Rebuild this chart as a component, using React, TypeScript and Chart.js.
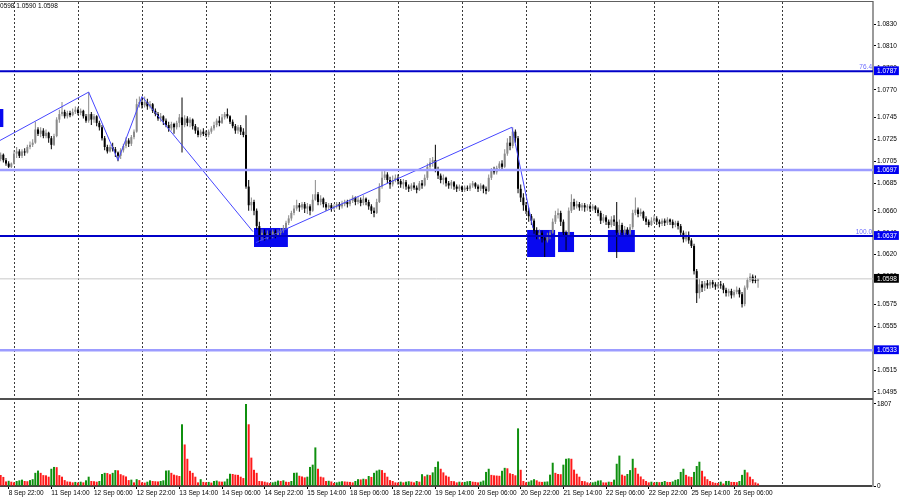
import React, { useEffect, useRef } from "react";
import { Chart, registerables } from "chart.js";

Chart.register(...registerables);

// Prices are stored in pips above PRICE_BASE (e.g. 98 -> 1.0598). One bar = one hour (H1).
const PRICE_BASE = 1.05;
const PIP = 0.0001;

const OPEN_PIPS = [
  207,211,206,203,200,
  203,212,214,210,214,213,218,220,222,234,230,233,228,231,226,220,228,243,248,250,246,249,247,250,
  252,249,251,246,242,248,243,246,240,236,226,218,214,218,216,213,210,215,219,224,221,227,232,257,
  259,256,259,255,257,251,248,244,246,242,238,235,239,236,240,245,238,244,240,243,237,233,229,232,
  230,229,232,235,238,242,240,245,248,246,241,237,233,236,232,229,182,165,168,160,146,137,140,136,
  139,137,141,138,140,142,144,149,153,158,162,165,163,166,162,164,160,170,175,168,171,166,163,165,
  162,164,166,164,166,168,166,169,172,168,170,167,171,168,164,160,158,168,182,190,193,188,184,188,
  190,187,184,186,182,180,183,181,179,185,183,190,200,204,206,198,192,188,190,185,183,186,182,180,
  182,179,181,180,183,185,182,180,183,180,178,190,197,195,199,203,200,212,222,219,232,226,180,172,
  165,160,155,151,142,138,140,135,133,137,140,150,156,158,150,140,138,160,168,164,166,163,165,163,
  164,162,164,161,158,151,154,150,147,152,150,140,147,140,143,139,145,158,161,157,159,153,150,147,
  151,153,150,148,151,149,152,150,147,149,146,140,134,138,133,128,105,85,93,90,94,92,95,93,
  91,93,92,88,85,87,83,86,88,84,75,90,97,100,96,96,
];
const HIGH_PIPS = [
  213,212,208,205,204,
  215,218,216,216,217,220,223,225,241,236,236,235,234,232,228,230,245,252,259,252,251,251,253,255,
  254,253,252,248,268,250,248,247,242,238,228,220,220,222,218,214,217,221,227,226,229,234,262,264,
  263,264,262,260,258,253,250,249,247,244,241,241,240,242,248,263,247,246,245,244,239,236,234,235,
  233,234,237,241,244,246,248,250,253,247,243,239,238,238,235,247,188,172,170,162,150,143,143,142,
  142,143,143,143,144,147,151,156,160,165,170,167,168,168,167,166,175,188,177,174,172,168,167,167,
  166,168,168,169,170,170,171,174,173,173,172,174,172,170,166,163,171,185,196,197,195,191,192,193,
  193,189,189,188,184,185,186,183,187,188,193,203,208,209,220,200,194,193,191,187,188,187,184,184,
  183,183,183,185,187,186,184,185,184,182,193,199,200,201,205,206,216,226,228,236,234,228,184,176,
  168,163,157,153,145,143,142,138,140,142,153,160,162,160,152,142,163,175,171,169,168,167,167,166,
  166,166,165,163,160,157,156,152,155,156,168,152,149,146,145,148,161,172,163,162,160,155,152,154,
  156,155,152,153,153,154,153,152,151,151,148,142,141,141,135,130,107,98,96,96,97,97,97,95,
  95,96,94,90,89,89,88,91,90,86,92,99,103,102,101,98,
];
const LOW_PIPS = [
  205,204,201,199,199,
  202,208,208,208,210,212,216,218,221,228,227,226,226,222,216,219,227,240,246,244,244,245,246,248,
  247,247,244,240,240,238,240,237,233,224,215,212,213,214,209,205,207,213,217,218,219,225,231,254,
  253,254,252,253,249,246,242,241,238,236,232,233,230,234,236,213,236,237,236,234,230,227,227,228,
  227,227,230,233,236,237,239,243,244,239,235,230,230,229,227,180,160,160,156,143,131,133,133,134,
  134,135,135,136,137,140,143,147,151,156,160,159,161,158,157,156,159,169,165,165,163,160,161,159,
  160,162,161,162,164,163,164,167,165,166,164,165,165,161,157,154,157,167,180,188,185,180,182,186,
  184,181,180,179,177,178,179,176,178,180,182,188,198,200,195,189,185,184,182,180,180,179,177,178,
  177,177,178,178,181,180,177,178,176,175,177,188,193,193,197,197,199,210,215,217,222,176,168,160,
  157,150,147,139,134,134,131,118,131,134,139,148,153,146,136,124,137,158,161,162,160,160,159,160,
  159,160,158,155,148,149,147,144,145,146,117,137,137,136,136,137,143,156,154,155,151,147,145,146,
  149,147,145,146,146,147,147,144,145,143,137,131,132,130,126,102,76,80,86,87,89,89,90,88,
  89,89,85,82,82,80,81,84,81,72,73,88,95,94,94,90,
];
const CLOSE_PIPS = [
  211,206,203,200,203,
  212,214,210,214,213,218,220,222,234,230,233,228,231,226,220,228,243,248,250,246,249,247,250,252,
  249,251,246,242,248,243,246,240,236,226,218,214,218,216,213,210,215,219,224,221,227,232,257,259,
  256,259,255,257,251,248,244,246,242,238,235,239,236,240,245,238,244,240,243,237,233,229,232,230,
  229,232,235,238,242,240,245,248,246,241,237,233,236,232,229,182,165,168,160,146,137,140,136,139,
  137,141,138,140,142,144,149,153,158,162,165,163,166,162,164,160,170,175,168,171,166,163,165,162,
  164,166,164,166,168,166,169,172,168,170,167,171,168,164,160,158,168,182,190,193,188,184,188,190,
  187,184,186,182,180,183,181,179,185,183,190,200,204,206,198,192,188,190,185,183,186,182,180,182,
  179,181,180,183,185,182,180,183,180,178,190,197,195,199,203,200,212,222,219,232,226,180,172,165,
  160,155,151,142,138,140,135,133,137,140,150,156,158,150,140,138,160,168,164,166,163,165,163,164,
  162,164,161,158,151,154,150,147,152,150,140,147,140,143,139,145,158,161,157,159,153,150,147,151,
  153,150,148,151,149,152,150,147,149,146,140,134,138,133,128,105,85,93,90,94,92,95,93,91,
  93,92,88,85,87,83,86,88,84,75,90,97,100,96,96,98,
];
const VOLUME = [
  245,200,100,115,95,80,110,125,140,110,
  105,130,150,290,340,290,240,235,205,380,
  420,415,240,205,130,100,95,80,90,75,
  95,80,125,205,110,105,95,110,265,290,
  285,260,290,350,345,260,235,210,130,140,
  80,150,130,80,75,95,125,110,105,100,
  110,125,340,345,290,250,235,220,1360,915,
  600,335,290,205,80,150,90,80,90,75,
  110,120,100,95,100,160,270,265,250,245,
  205,175,1807,1360,625,357,290,110,105,95,
  80,65,80,95,120,110,125,95,90,110,
  290,295,225,210,190,205,420,470,850,380,
  205,190,110,115,100,65,80,95,105,100,
  95,90,80,110,150,145,160,150,220,200,
  290,340,360,350,290,205,130,110,80,75,
  95,80,95,105,95,80,110,95,260,215,
  250,240,300,420,540,380,300,230,205,110,
  105,80,95,80,90,105,110,95,90,80,
  95,120,310,380,245,235,230,225,335,400,
  390,280,265,235,1270,357,110,80,95,125,
  150,125,95,90,95,100,250,513,290,265,
  260,470,600,610,600,360,270,205,110,105,
  80,60,80,95,120,125,80,78,95,90,
  140,490,670,250,225,265,350,600,400,270,
  210,150,110,80,95,75,90,85,90,110,
  90,88,100,135,150,310,380,245,210,200,
  310,440,535,335,210,150,110,85,70,65,
  95,55,110,112,90,88,85,110,245,357,
  300,205,150,80,55,
];

// Time axis: bar indices of the labelled hours and of each day's 00:00 (dashed grid)
const X_LABEL_IDX = [3,19,35,51,67,83,99,115,131,147,163,179,195,211,227,243,259,275];
const X_LABELS = [
  "8 Sep 22:00","11 Sep 14:00","12 Sep 06:00","12 Sep 22:00","13 Sep 14:00","14 Sep 06:00",
  "14 Sep 22:00","15 Sep 14:00","18 Sep 06:00","18 Sep 22:00","19 Sep 14:00","20 Sep 06:00",
  "20 Sep 22:00","21 Sep 14:00","22 Sep 06:00","22 Sep 22:00","25 Sep 14:00","26 Sep 06:00",
];
const DAY_START_IDX = [5,29,53,77,101,125,149,173,197,221,245,269,293];
const X_MIN = -0.25;
const X_MAX = 327.1;

// Price axis
const Y_MIN = 1.048862;
const Y_MAX = 1.085003;
const PRICE_TICKS = [1.083,1.081,1.079,1.077,1.0745,1.0725,1.0705,1.0685,1.066,1.064,1.062,1.06,1.0575,1.0555,1.0515,1.0495];
const MARKED_TICKS = [1.0787, 1.0697, 1.0637, 1.0598, 1.0533];
const MARKED_BG = ["#0000f0", "#0000f0", "#0000f0", "#000000", "#0000f0"];

// Volume axis
const VOL_MAX = 1917;
const VOLUME_TICKS = [0, 1807];

// Horizontal levels
const LEVEL_PRICES = [1.0787, 1.0697, 1.0637, 1.0533, 1.0598];
const LEVEL_COLORS = ["#0000c8", "#9c9cff", "#0000c8", "#9c9cff", "#c8c8c8"];
const LEVEL_WIDTHS = [2, 2.5, 2, 2.5, 1];

// Fibonacci level captions
const FIB_TEXT = ["76.4", "100.0"];
const FIB_PRICE = [1.0787, 1.0637];

// Zigzag / trend lines (bar index, price)
const ZIGZAG1_X = [-0.25, 33, 44, 53, 94.6];
const ZIGZAG1_Y = [1.0724, 1.0768, 1.0706, 1.0764, 1.0641];
const ZIGZAG2_X = [95.7, 191.7, 199.6];
const ZIGZAG2_Y = [1.0631, 1.0736, 1.0644];

// Blue zones (bar index from/to, price top/bottom)
const ZONE_X0 = [-6, 95, 197.4, 209, 227.7];
const ZONE_X1 = [1.0, 107.7, 207.9, 215, 237.8];
const ZONE_TOP = [1.07526, 1.06443, 1.06425, 1.06407, 1.06425];
const ZONE_BOTTOM = [1.07362, 1.0627, 1.06179, 1.06224, 1.06224];

const HEADER_TEXT = "1.0598 1.0590 1.0598";

const FONT = '"Liberation Sans", Arial, sans-serif';
const FONT_SIZE = 6.5;

const toPrice = (p: number) => +(PRICE_BASE + p * PIP).toFixed(5);
const key4 = (v: number) => Number(v).toFixed(4);

export default function App() {
  const ref = useRef<HTMLCanvasElement>(null);

  useEffect(() => {
    const canvas = ref.current;
    if (!canvas) return;
    const n = CLOSE_PIPS.length;
    const idx = Array.from({ length: n }, (_, i) => i);
    const candleColor = idx.map((i) => (CLOSE_PIPS[i] > OPEN_PIPS[i] ? "#8a8a8a" : "#000000"));
    const volColor = VOLUME.map((v, i) => (i > 0 && v > VOLUME[i - 1] ? "#0f900f" : "#ff1a1a"));

    const xTicks = [...X_LABEL_IDX, ...DAY_START_IDX].sort((a, b) => a - b);
    const markedIndex = (v: number) => MARKED_TICKS.findIndex((m) => key4(m) === key4(v));

    const levelSets = LEVEL_PRICES.map((p, k) => ({
      type: "line" as const,
      yAxisID: "y",
      data: [{ x: X_MIN, y: p }, { x: X_MAX, y: p }],
      borderColor: LEVEL_COLORS[k],
      borderWidth: LEVEL_WIDTHS[k],
      pointRadius: 0,
      fill: false,
      order: 0,
    }));

    const zig = (xs: number[], ys: number[]) => ({
      type: "line" as const,
      yAxisID: "y",
      data: xs.map((x, k) => ({ x, y: ys[k] })),
      borderColor: "#4646ff",
      borderWidth: 1,
      pointRadius: 0,
      fill: false,
      tension: 0,
      order: 1,
    });

    const overlay = {
      id: "overlay",
      beforeDatasetsDraw(chart: any) {
        const { ctx } = chart;
        const xs = chart.scales.x;
        const ys = chart.scales.y;
        ctx.save();
        ctx.beginPath();
        ctx.rect(xs.left, ys.top, xs.right - xs.left, ys.bottom - ys.top);
        ctx.clip();
        ctx.fillStyle = "#0808f0";
        for (let k = 0; k < ZONE_X0.length; k++) {
          const l = xs.getPixelForValue(ZONE_X0[k]);
          const r = xs.getPixelForValue(ZONE_X1[k]);
          const t = ys.getPixelForValue(ZONE_TOP[k]);
          const b = ys.getPixelForValue(ZONE_BOTTOM[k]);
          ctx.fillRect(l, t, r - l, b - t);
        }
        ctx.restore();
      },
      afterDraw(chart: any) {
        const { ctx, chartArea } = chart;
        const ys = chart.scales.y;
        const yv = chart.scales.yv;
        ctx.save();
        // pane separator
        ctx.fillStyle = "#505050";
        ctx.fillRect(chartArea.left, yv.top - 1, chartArea.right - chartArea.left, 2);
        // top frame
        ctx.fillStyle = "#606060";
        ctx.fillRect(0, 1, chartArea.right, 1);
        // fib captions
        ctx.font = `${FONT_SIZE}px ${FONT}`;
        ctx.fillStyle = "#6a6aff";
        ctx.textAlign = "right";
        ctx.textBaseline = "bottom";
        FIB_TEXT.forEach((t, k) => {
          ctx.fillText(t, chartArea.right - 1, ys.getPixelForValue(FIB_PRICE[k]) - 1);
        });
        // header text
        ctx.fillStyle = "#000";
        ctx.textAlign = "left";
        ctx.textBaseline = "middle";
        ctx.fillText(HEADER_TEXT, -5.4, 6.5);
        ctx.restore();
      },
    };

    const tickFont = { family: FONT, size: FONT_SIZE };

    const chart = new Chart(canvas, {
      type: "bar",
      data: {
        datasets: [
          ...levelSets,
          zig(ZIGZAG1_X, ZIGZAG1_Y),
          zig(ZIGZAG2_X, ZIGZAG2_Y),
          {
            type: "bar",
            yAxisID: "y",
            data: idx.map((i) => ({ x: i, y: [toPrice(OPEN_PIPS[i]), toPrice(CLOSE_PIPS[i])] })),
            backgroundColor: candleColor,
            barThickness: 2,
            minBarLength: 1,
            grouped: false,
            inflateAmount: 0,
            borderWidth: 0,
            order: 2,
          },
          {
            type: "bar",
            yAxisID: "y",
            data: idx.map((i) => ({ x: i, y: [toPrice(LOW_PIPS[i]), toPrice(HIGH_PIPS[i])] })),
            backgroundColor: candleColor,
            barThickness: 1,
            grouped: false,
            inflateAmount: 0,
            borderWidth: 0,
            order: 3,
          },
          {
            type: "bar",
            yAxisID: "yv",
            data: idx.map((i) => ({ x: i, y: VOLUME[i] })),
            backgroundColor: volColor,
            barThickness: 2,
            grouped: false,
            inflateAmount: 0,
            borderWidth: 0,
            order: 4,
          },
        ] as any,
      },
      options: {
        responsive: false,
        animation: false,
        events: [],
        layout: { padding: { top: 2, left: 0, right: 0, bottom: 0 } },
        plugins: { legend: { display: false }, tooltip: { enabled: false } },
        scales: {
          x: {
            type: "linear",
            position: "bottom",
            min: X_MIN,
            max: X_MAX,
            offset: false,
            afterBuildTicks: (s: any) => {
              s.ticks = xTicks.map((v) => ({ value: v }));
            },
            afterFit: (s: any) => {
              s.height = 14;
              s.paddingLeft = 0;
              s.paddingRight = 0;
            },
            ticks: {
              autoSkip: false,
              maxRotation: 0,
              minRotation: 0,
              align: "start",
              padding: 0,
              color: "#000",
              font: tickFont,
              callback: (v: any) => {
                const k = X_LABEL_IDX.indexOf(Number(v));
                return k >= 0 ? X_LABELS[k] : "";
              },
            },
            grid: {
              display: true,
              drawOnChartArea: true,
              drawTicks: true,
              tickLength: 3,
              lineWidth: 1,
              offset: false,
              color: (c: any) => (c.tick && DAY_START_IDX.includes(c.tick.value) ? "#3a3a3a" : "rgba(0,0,0,0)"),
              tickColor: (c: any) => (c.tick && X_LABEL_IDX.includes(c.tick.value) ? "#000" : "rgba(0,0,0,0)"),
            },
            border: { display: true, color: "#454545", width: 2, dash: [2, 2] },
          },
          y: {
            type: "linear",
            position: "right",
            stack: "panes",
            stackWeight: 397,
            weight: 0,
            min: Y_MIN,
            max: Y_MAX,
            afterBuildTicks: (s: any) => {
              s.ticks = [...PRICE_TICKS, ...MARKED_TICKS].map((v) => ({ value: v }));
            },
            afterFit: (s: any) => {
              s.width = 27;
              s.paddingTop = 0;
              s.paddingBottom = 0;
            },
            ticks: {
              autoSkip: false,
              padding: 1,
              font: tickFont,
              color: (c: any) => (c.tick && markedIndex(c.tick.value) >= 0 ? "#ffffff" : "#000000"),
              showLabelBackdrop: (c: any) => !!(c.tick && markedIndex(c.tick.value) >= 0),
              backdropColor: (c: any) => {
                const k = c.tick ? markedIndex(c.tick.value) : -1;
                return k >= 0 ? MARKED_BG[k] : "rgba(0,0,0,0)";
              },
              backdropPadding: { left: 3, right: 2, top: 1, bottom: 0 },
              callback: (v: any) => Number(v).toFixed(4),
            },
            grid: { drawOnChartArea: false, drawTicks: true, tickLength: 3, tickColor: "#000", color: "rgba(0,0,0,0)" },
            border: { display: true, color: "#9a9a9a", width: 2 },
          },
          yv: {
            type: "linear",
            position: "right",
            stack: "panes",
            stackWeight: 87,
            weight: 1,
            min: 0,
            max: VOL_MAX,
            afterBuildTicks: (s: any) => {
              s.ticks = VOLUME_TICKS.map((v) => ({ value: v }));
            },
            afterFit: (s: any) => {
              s.width = 27;
              s.paddingTop = 0;
              s.paddingBottom = 0;
            },
            ticks: {
              autoSkip: false,
              padding: 1,
              font: tickFont,
              color: "#000",
              callback: (v: any) => String(v),
            },
            grid: { drawOnChartArea: false, drawTicks: true, tickLength: 3, tickColor: "#000", color: "rgba(0,0,0,0)" },
            border: { display: true, color: "#9a9a9a", width: 2 },
          },
        } as any,
      },
      plugins: [overlay],
    } as any);

    return () => chart.destroy();
  }, []);

  return (
    <div style={{ position: "absolute", left: 0, top: 0, width: 900, height: 500, background: "#ffffff" }}>
      <canvas ref={ref} width={900} height={500} style={{ display: "block" }} />
    </div>
  );
}
